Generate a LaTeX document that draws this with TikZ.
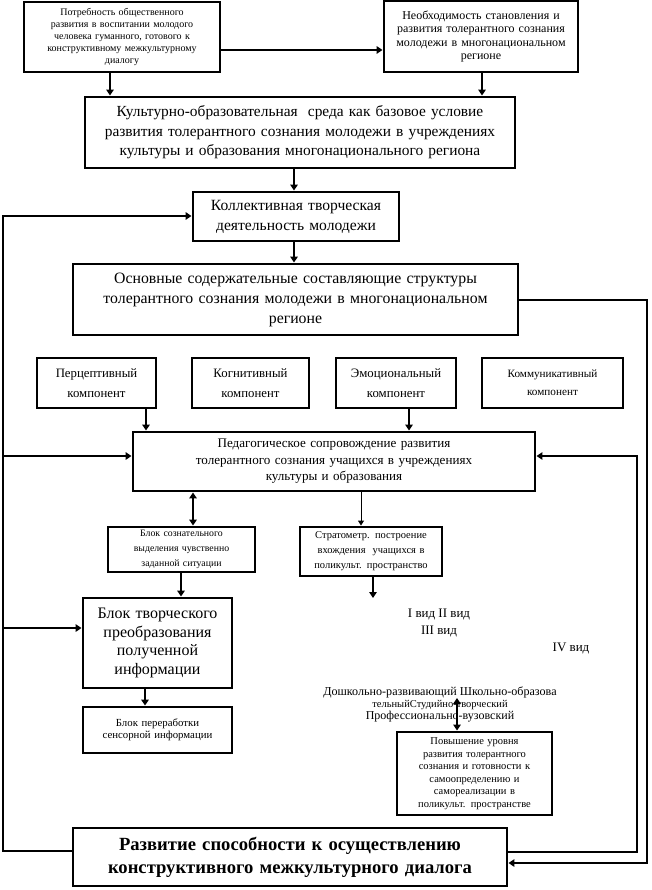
\documentclass[tikz,border=0pt]{standalone}
\usepackage{fontspec}
\setmainfont{Liberation Serif}
\usetikzlibrary{arrows.meta}
\begin{document}
\begin{tikzpicture}[x=1pt,y=-1pt,
 box/.style={draw, line width=2.9pt, align=center, inner sep=0pt},
 conn/.style={line width=2.9pt},
 arr/.style={conn, -{Triangle[length=6pt,width=7.5pt]}},
 darr/.style={conn, {Triangle[length=6pt,width=7.5pt]}-{Triangle[length=6pt,width=7.5pt]}},
 thinarr/.style={line width=0.9pt, -{Triangle[length=5pt,width=6pt]}},
 fs/.style 2 args={font=\fontsize{#1}{#2}\selectfont},
 lbl/.style={align=center, inner sep=0pt}
]
\useasboundingbox (0,0) rectangle (651,890);

\node[box, minimum width=196pt, minimum height=70pt, text width=190pt, fs={10}{12}] (potr) at (122,37)
 {Потребность общественного\\развития в воспитании молодого\\человека гуманного, готового к\\конструктивному межкультурному\\диалогу};
\node[box, minimum width=194pt, minimum height=71pt, text width=190pt, fs={12}{13.3}] (neob) at (481,36.5)
 {Необходимость становления и\\развития толерантного сознания\\молодежи в многонациональном\\регионе};
\node[box, minimum width=430pt, minimum height=71pt, text width=424pt, fs={15.4}{19.5}] (kult) at (300,132.5)
 {Культурно-образовательная\ \ среда как базовое условие\\развития толерантного сознания молодежи в учреждениях\\культуры и образования многонационального региона};
\node[box, minimum width=206pt, minimum height=49pt, text width=200pt, fs={15.6}{20}] (koll) at (296,216.5)
 {Коллективная творческая\\деятельность молодежи};
\node[box, minimum width=445pt, minimum height=71pt, text width=440pt, fs={15.8}{20}] (osn) at (295.5,299.5)
 {Основные содержательные составляющие структуры\\толерантного сознания молодежи в многонациональном\\регионе};

\node[box, minimum width=119pt, minimum height=50pt, text width=115pt, fs={12.8}{20}] (perc) at (96.5,383)
 {Перцептивный\\компонент};
\node[box, minimum width=117pt, minimum height=50pt, text width=113pt, fs={12.8}{20}] (kogn) at (250.5,383)
 {Когнитивный\\компонент};
\node[box, minimum width=120pt, minimum height=50pt, text width=116pt, fs={12.8}{20}] (emo) at (396,383)
 {Эмоциональный\\компонент};
\node[box, minimum width=141pt, minimum height=50pt, text width=137pt, fs={11.2}{18}] (komm) at (552.5,383)
 {Коммуникативный\\компонент};

\node[box, minimum width=402pt, minimum height=59pt, text width=396pt, fs={13.1}{16.5}] (ped) at (334,461.5)
 {Педагогическое сопровождение развития\\толерантного сознания учащихся в учреждениях\\культуры и образования};

\node[box, minimum width=147pt, minimum height=45pt, text width=143pt, fs={9.8}{15}] (soz) at (181.5,549.5)
 {Блок сознательного\\выделения чувственно\\заданной ситуации};
\node[box, minimum width=142pt, minimum height=49pt, text width=138pt, fs={10.5}{15}] (strat) at (371,551.5)
 {Стратометр. построение\\вхождения\ \ учащихся в\\поликульт. пространство};

\node[box, minimum width=149pt, minimum height=90pt, text width=145pt, fs={16}{18.5}] (tvor) at (157.5,643)
 {Блок творческого\\преобразования\\полученной\\информации};
\node[box, minimum width=149pt, minimum height=46pt, text width=145pt, fs={10.8}{12}] (perer) at (157.5,730)
 {Блок переработки\\сенсорной информации\\[6pt]};

\node[box, minimum width=155pt, minimum height=83pt, text width=151pt, fs={10.5}{12.5}] (pov) at (474.5,773.5)
 {Повышение уровня\\развития толерантного\\сознания и готовности к\\самоопределению и\\самореализации в\\поликульт. пространстве};

\node[box, minimum width=434pt, minimum height=58pt, text width=428pt, font=\bfseries\fontsize{18.6}{23}\selectfont] (razv) at (290,857)
 {Развитие способности к осуществлению\\конструктивного межкультурного диалога};

\node[lbl, fs={13}{17}] (vid) at (439,623) {I вид II вид\\III вид};
\node[lbl, fs={13}{17}] (vid4) at (571,648) {IV вид};
\node[lbl] (dosh) at (440,704)
 {{\fontsize{12.1}{13}\selectfont Дошкольно-развивающий Школьно-образова}\\
  {\fontsize{10.5}{13}\selectfont тельныйСтудийно-творческий}\\
  {\fontsize{12}{13}\selectfont Профессионально-вузовский}};

\coordinate (stratend) at (373,598);
\coordinate (dtop) at (457,698);

% connectors
\draw[arr] (potr.south -| 110,0) -- (kult.north -| 110,0);
\draw[arr] (potr.east |- 0,50) -- (neob.west |- 0,50);
\draw[arr] (neob.south -| 482,0) -- (kult.north -| 482,0);
\draw[arr] (kult.south -| 294,0) -- (koll.north -| 294,0);
\draw[arr] (koll.south -| 294,0) -- (osn.north -| 294,0);
\draw[arr] (perc.south -| 146,0) -- (ped.north -| 146,0);
\draw[arr] (emo.south -| 409,0) -- (ped.north -| 409,0);
\draw[darr] (ped.south -| 193,0) -- (soz.north -| 193,0);
\draw[thinarr] (ped.south -| 361,0) -- (strat.north -| 361,0);
\draw[arr] (soz.south -| 181,0) -- (tvor.north -| 181,0);
\draw[arr] (strat.south -| 373,0) -- (stratend);
\draw[arr] (tvor.south -| 145,0) -- (perer.north -| 145,0);
\draw[darr] (dtop) -- (pov.north -| 457,0);

% left loop
\draw[arr] (razv.west |- 0,851) -- (3,851) -- (3,216) -- (koll.west |- 0,216);
\draw[arr] (3,456) -- (ped.west |- 0,456);
\draw[arr] (3,628) -- (tvor.west |- 0,628);

% right loops
\draw[arr] (osn.east |- 0,300) -- (647,300) -- (647,863) -- (razv.east |- 0,863);
\draw[arr] (razv.east |- 0,852) -- (637,852) -- (637,456) -- (ped.east |- 0,456);
\end{tikzpicture}
\end{document}
